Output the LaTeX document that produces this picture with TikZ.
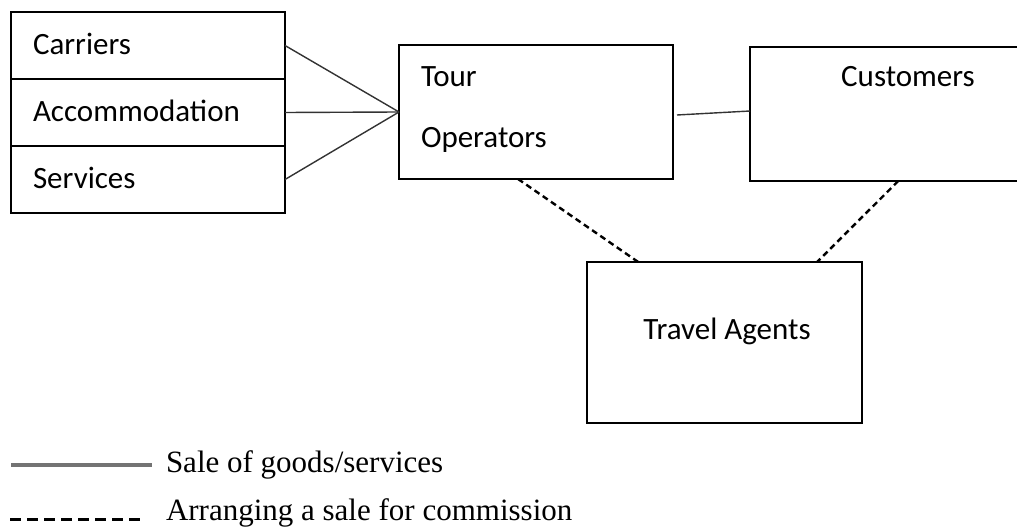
\documentclass[tikz,border=0pt]{standalone}
\usepackage{fontspec}
\setmainfont{Liberation Serif}
\newfontfamily\boxfont{Carlito}
\usepackage{tikz}

\begin{document}
\begin{tikzpicture}[x=1pt,y=-1pt]
\tikzstyle{every node}=[inner sep=0pt, outer sep=0pt]
\tikzstyle{box}=[draw, rectangle, line width=1.6pt, minimum width=274pt]
\tikzstyle{supplier}=[box, minimum height=67pt, text width=230pt, inner xsep=22pt,
                      align=left, text height=18pt, text depth=0pt,
                      font=\boxfont\fontsize{31}{36}\selectfont]
\tikzstyle{lbl}=[font=\boxfont\fontsize{31}{36}\selectfont]
\tikzstyle{sale}=[line width=1.4pt, black!80]
\tikzstyle{commission}=[line width=2.4pt, dash pattern=on 6pt off 4pt]
\useasboundingbox (0,0) rectangle (1017,529);
% suppliers
\node[supplier] (carriers) at (148,45.5){Carriers};
\node[supplier] (accom) at (148,112.5){Accommodation};
\node[supplier] (services) at (148,179.5){Services};
% boxes
\node[box, minimum height=134pt] (tour) at (536,112){};
\node[box, minimum width=280pt, minimum height=134pt] (cust) at (890,114){};
\node[box, minimum width=275pt, minimum height=161pt] (agents) at (724.5,342.5){};
\node[lbl, anchor=base west] (tourtxt) at (421,87){Tour};
\node[lbl, anchor=base west] (optxt) at (421,148){Operators};
\node[lbl, anchor=base] (custtxt) at (908,87){Customers};
\node[lbl, anchor=base] (agentstxt) at (727,339){Travel Agents};
% connectors
\foreach \i in {carriers,accom,services}{\draw[sale] (\i.east) -- (tour.west);}
\draw[sale] ([xshift=4pt,yshift=-3pt]tour.east) -- ([yshift=3pt]cust.west);
\draw[commission] (tour.255) -- (agents.137);
\draw[commission] (cust.-83) -- (agents.41);
% legend
\coordinate (s1) at (11,465);
\coordinate (s2) at (152,465);
\coordinate (d1) at (10,519);
\coordinate (d2) at (146,519);
\draw[line width=3.2pt, black!55] (s1) -- (s2);
\draw[line width=3pt, dash pattern=on 11pt off 6pt] (d1) -- (d2);
\node[anchor=base west, font=\fontsize{31}{36}\selectfont] (saletxt) at (166,472){Sale of goods/services};
\node[anchor=base west, font=\fontsize{31}{36}\selectfont] (commtxt) at (166,520){Arranging a sale for commission};
\end{tikzpicture}
\end{document}
